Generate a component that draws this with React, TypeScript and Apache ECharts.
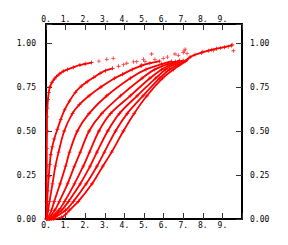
import React, { useEffect, useRef } from "react";
import * as echarts from "echarts";

// x labels / y labels
const X_LABELS = [0, 1, 2, 3, 4, 5, 6, 7, 8, 9];
const Y_LABELS = [0, 0.25, 0.5, 0.75, 1.0];

// curves: [x, y]
const curve1: number[][] = [
  [0.02, 0.0], [0.03, 0.1], [0.03, 0.2], [0.04, 0.3], [0.04, 0.4], [0.05, 0.5], [0.05, 0.58],
  [0.07, 0.63], [0.1, 0.68], [0.14, 0.72], [0.2, 0.75], [0.3, 0.775], [0.42, 0.795], [0.54, 0.81],
  [0.7, 0.825], [0.88, 0.84], [1.1, 0.85], [1.39, 0.862], [1.73, 0.875], [2.0, 0.882], [2.33, 0.889],
];
const curve2: number[][] = [
  [0.03, 0.0], [0.05, 0.08], [0.09, 0.16], [0.14, 0.24], [0.19, 0.31], [0.24, 0.365], [0.32, 0.41],
  [0.42, 0.455], [0.58, 0.51], [0.75, 0.565], [0.95, 0.62], [1.2, 0.67], [1.5, 0.72], [1.8, 0.755],
  [2.1, 0.78], [2.44, 0.805], [2.76, 0.828], [3.03, 0.843], [3.4, 0.856],
];
const curve3: number[][] = [
  [0.05, 0.0], [0.11, 0.05], [0.18, 0.1], [0.33, 0.2], [0.48, 0.3], [0.64, 0.38], [0.93, 0.5],
  [1.35, 0.6], [1.7, 0.65], [2.2, 0.7], [2.8, 0.75], [3.5, 0.8], [3.9, 0.822], [4.4, 0.85],
  [4.85, 0.87], [5.3, 0.885], [5.8, 0.897],
];
const curve4: number[][] = [
  [0.08, 0.0], [0.28, 0.05], [0.42, 0.1], [0.72, 0.2], [1.0, 0.3], [1.2, 0.38], [1.6, 0.5],
  [2.2, 0.6], [3.1, 0.7], [4.3, 0.8], [5.1, 0.85], [5.9, 0.88], [6.4, 0.895],
];
const curve5: number[][] = [
  [0.12, 0.0], [0.45, 0.05], [0.68, 0.1], [1.1, 0.2], [1.45, 0.3], [1.75, 0.38], [2.2, 0.5],
  [2.85, 0.6], [3.8, 0.7], [4.9, 0.8], [5.55, 0.85], [6.2, 0.88], [6.6, 0.895],
];
const curve6: number[][] = [
  [0.18, 0.0], [0.65, 0.05], [0.95, 0.1], [1.45, 0.2], [1.9, 0.3], [2.22, 0.38], [2.7, 0.5],
  [3.3, 0.6], [4.3, 0.7], [5.3, 0.8], [5.9, 0.85], [6.4, 0.88], [6.8, 0.9],
];
const curve7: number[][] = [
  [0.25, 0.0], [0.8, 0.05], [1.15, 0.1], [1.75, 0.2], [2.25, 0.3], [2.6, 0.38], [3.15, 0.5],
  [3.75, 0.6], [4.65, 0.7], [5.6, 0.8], [6.1, 0.85], [6.6, 0.88], [7.0, 0.9],
];
const curve8: number[][] = [
  [0.3, 0.0], [1.0, 0.05], [1.4, 0.1], [2.05, 0.2], [2.6, 0.3], [2.98, 0.38], [3.55, 0.5],
  [4.15, 0.6], [4.95, 0.7], [5.8, 0.8], [6.3, 0.85], [6.8, 0.88], [7.2, 0.905],
];
const curve9: number[][] = [
  [0.4, 0.0], [0.8, 0.01], [1.0, 0.025], [1.2, 0.05], [1.65, 0.1], [2.35, 0.2], [2.9, 0.3],
  [3.35, 0.38], [3.95, 0.5], [4.5, 0.6], [5.15, 0.7], [5.95, 0.8], [6.5, 0.85], [7.1, 0.895],
  [7.35, 0.92], [7.94, 0.945], [8.28, 0.956], [8.7, 0.968], [9.1, 0.976], [9.47, 0.986],
];
// scattered single points
const sparse: number[][] = [
  [2.7, 0.897], [3.1, 0.907], [3.43, 0.913],
  [3.7, 0.868], [3.96, 0.877], [4.12, 0.885], [4.47, 0.893], [4.63, 0.894], [4.97, 0.907],
  [4.88, 0.875], [5.05, 0.894], [5.39, 0.9375], [5.56, 0.907], [5.98, 0.913], [6.2, 0.92],
  [6.58, 0.9375], [6.75, 0.93], [7.0, 0.945], [7.05, 0.955], [7.1, 0.965], [7.2, 0.94],
  [7.6, 0.935], [8.0, 0.95], [8.45, 0.962], [8.55, 0.958], [8.9, 0.972], [9.3, 0.979],
  [9.56, 0.956], [9.5, 0.99],
];

const CURVES = [curve1, curve2, curve3, curve4, curve5, curve6, curve7, curve8, curve9];

const PLUS = "path://M0,2H5V3H0Z M2,0H3V5H2Z";
const RED = "#ff0000";
const FONT = "DejaVu Sans Mono";

export default function App() {
  const ref = useRef<HTMLDivElement>(null);
  useEffect(() => {
    if (!ref.current) return;
    const chart = echarts.init(ref.current, undefined, { renderer: "svg" });
    const xFmt = (v: number) => (X_LABELS.includes(v) ? `${v}.` : "");
    const yFmt = (v: number) => {
      const r = Math.round(v * 100) / 100;
      return Y_LABELS.includes(r) ? r.toFixed(2) : "";
    };
    const xBase = (pos: "top" | "bottom", margin: number) => ({
      type: "value" as const,
      position: pos,
      min: 0,
      max: 10,
      interval: 1,
      axisLine: { show: true, onZero: false, lineStyle: { color: "#000", width: 2 } },
      axisTick: { show: true, inside: true, length: 6, lineStyle: { color: "#333", width: 1 } },
      axisLabel: { margin, fontFamily: FONT, fontSize: 8, color: "#000", formatter: xFmt },
      splitLine: { show: false },
    });
    const yBase = (pos: "left" | "right", margin: number) => ({
      type: "value" as const,
      position: pos,
      min: 0,
      max: 1.108,
      interval: 0.25,
      axisLine: { show: true, onZero: false, lineStyle: { color: "#000", width: 2 } },
      axisTick: { show: true, inside: true, length: 6, lineStyle: { color: "#333", width: 1 } },
      axisLabel: { margin, fontFamily: FONT, fontSize: 8, color: "#000", formatter: yFmt },
      splitLine: { show: false },
    });
    const series: any[] = CURVES.map((c) => ({
      type: "line",
      data: c,
      smooth: 0.3,
      symbol: PLUS,
      symbolSize: 4,
      showSymbol: true,
      itemStyle: { color: RED },
      lineStyle: { color: RED, width: 1.8 },
      silent: true,
    }));
    series.push({
      type: "scatter",
      data: sparse,
      symbol: PLUS,
      symbolSize: 4,
      itemStyle: { color: RED },
      silent: true,
    });
    chart.setOption({
      animation: false,
      backgroundColor: "#fff",
      grid: { left: 46, top: 24, width: 196, height: 195, containLabel: false },
      xAxis: [xBase("bottom", 2), xBase("top", 1)],
      yAxis: [yBase("left", 10), yBase("right", 8)],
      series,
    });
    return () => chart.dispose();
  }, []);
  return (
    <div
      ref={ref}
      style={{ position: "fixed", left: 0, top: 0, width: 288, height: 245 }}
    />
  );
}
